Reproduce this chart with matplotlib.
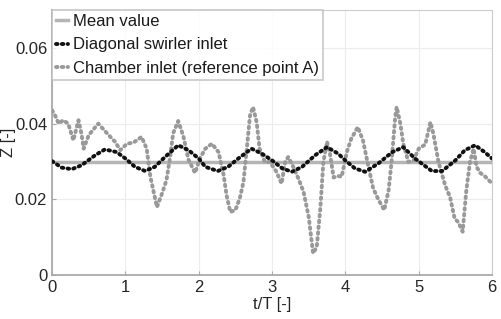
import numpy as np
import matplotlib
matplotlib.use("Agg")
import matplotlib.pyplot as plt

plt.rcParams['font.family'] = ['Liberation Sans', 'DejaVu Sans']

# valor medio
mean_z = 0.0299

# Diagonal swirler inlet
t_diag = [0, 0.13, 0.27, 0.4, 0.59, 0.72, 0.88, 1.0, 1.13, 1.27, 1.4, 1.54, 1.72, 1.86,
          2.0, 2.09, 2.26, 2.4, 2.54, 2.72, 2.86, 3.0, 3.14, 3.27, 3.41, 3.59, 3.75, 3.9,
          4.0, 4.13, 4.27, 4.45, 4.64, 4.79, 4.95, 5.04, 5.18, 5.32, 5.5, 5.63, 5.77, 5.9, 6.0]
z_diag = [0.0301, 0.0284, 0.0280, 0.0290, 0.0317, 0.0332, 0.0325, 0.0308, 0.0286, 0.0275,
          0.0286, 0.0312, 0.0343, 0.0330, 0.0308, 0.0286, 0.0275, 0.0286, 0.0308, 0.0334,
          0.0321, 0.0303, 0.0282, 0.0273, 0.0286, 0.0317, 0.0338, 0.0321, 0.0303, 0.0282,
          0.0273, 0.0295, 0.0325, 0.0338, 0.0308, 0.0295, 0.0275, 0.0275, 0.0303, 0.0330,
          0.0343, 0.0325, 0.0308]

# Chamber inlet (punto A)
t_cham = [0, 0.04, 0.09, 0.15, 0.22, 0.29, 0.36, 0.40, 0.43, 0.5, 0.63, 0.77, 0.86, 0.93,
          1.02, 1.11, 1.22, 1.29, 1.34, 1.43, 1.5, 1.56, 1.61, 1.65, 1.72, 1.79, 1.86, 1.95,
          2.02, 2.09, 2.18, 2.27, 2.34, 2.38, 2.43, 2.5, 2.56, 2.61, 2.66, 2.70, 2.74, 2.79,
          2.83, 2.9, 2.97, 3.06, 3.13, 3.18, 3.22, 3.29, 3.36, 3.43, 3.5, 3.56, 3.61, 3.66,
          3.70, 3.75, 3.79, 3.84, 3.9, 3.95, 4.02, 4.08, 4.17, 4.24, 4.31, 4.38, 4.45, 4.53,
          4.59, 4.63, 4.68, 4.70, 4.75, 4.79, 4.86, 4.93, 5.0, 5.09, 5.16, 5.2, 5.27, 5.36,
          5.43, 5.49, 5.54, 5.60, 5.65, 5.70, 5.75, 5.79, 5.84, 5.91, 6.0]
z_cham = [0.0435, 0.0422, 0.0400, 0.0409, 0.0400, 0.0356, 0.0409, 0.0374, 0.0334, 0.0370,
          0.0400, 0.0370, 0.0352, 0.0330, 0.0347, 0.0350, 0.0365, 0.0334, 0.0260, 0.0180,
          0.0216, 0.0251, 0.0312, 0.0374, 0.0407, 0.0367, 0.0305, 0.0270, 0.0310, 0.0334,
          0.0347, 0.0325, 0.0264, 0.0211, 0.0167, 0.0172, 0.0203, 0.0246, 0.0343, 0.0422,
          0.0444, 0.0404, 0.0334, 0.0299, 0.0299, 0.0273, 0.0242, 0.0299, 0.0312, 0.0286,
          0.0255, 0.0220, 0.0154, 0.0058, 0.0075, 0.0180, 0.0299, 0.0352, 0.0321, 0.0258,
          0.0262, 0.0260, 0.0325, 0.0360, 0.0391, 0.0356, 0.0291, 0.0229, 0.0200, 0.0172,
          0.0224, 0.0299, 0.0417, 0.0444, 0.0400, 0.0347, 0.0299, 0.0303, 0.0334, 0.0345,
          0.0404, 0.0374, 0.0299, 0.0238, 0.0205, 0.0150, 0.0140, 0.0115, 0.0224, 0.0299,
          0.0334, 0.0286, 0.0270, 0.0260, 0.0242]

fig = plt.figure(figsize=(5.01, 3.19), dpi=100)
ax = fig.add_axes([0.104, 0.137, 0.878, 0.832])

ax.plot([0, 6], [mean_z, mean_z], color="#b5b5b5", lw=2.5, label="Mean value", zorder=2)
ax.plot(t_diag, z_diag, color="#111111", lw=2.8, ls=(0, (0.4, 1.1)),
        dash_capstyle="round", label="Diagonal swirler inlet", zorder=4)
ax.plot(t_cham, z_cham, color="#999999", lw=2.8, ls=(0, (0.4, 1.1)),
        dash_capstyle="round", label="Chamber inlet (reference point A)", zorder=3)

ax.set_xlim(0, 6)
ax.set_ylim(0, 0.07)
ax.set_xticks([0, 1, 2, 3, 4, 5, 6])
ax.set_yticks([0, 0.02, 0.04, 0.06])
ax.set_yticklabels(["0", "0.02", "0.04", "0.06"])
ax.tick_params(direction="in", length=3, labelsize=12, colors="#aaaaaa", labelcolor="#262626")
ax.grid(True, color="#ececec", lw=0.8)
for s in ax.spines.values():
    s.set_color("#cccccc")
ax.spines["left"].set_color("#aaaaaa")
ax.spines["bottom"].set_color("#aaaaaa")
ax.spines["left"].set_linewidth(1.3)
ax.spines["bottom"].set_linewidth(1.3)

ax.set_xlabel("t/T [-]", fontsize=12, color="#262626", labelpad=1)
ax.set_ylabel("Z [-]", fontsize=12, color="#262626")
ax.yaxis.set_label_coords(-0.082, 0.5)

leg = ax.legend(loc="upper left", fontsize=12, handlelength=0.7, handletextpad=0.3,
                borderpad=0.25, labelspacing=0.5, borderaxespad=0, fancybox=False)
leg.get_frame().set_edgecolor("#bbbbbb")
leg.get_frame().set_linewidth(1.2)
for txt in leg.get_texts():
    txt.set_color("#1a1a1a")

fig.savefig("out.png", dpi=100)
